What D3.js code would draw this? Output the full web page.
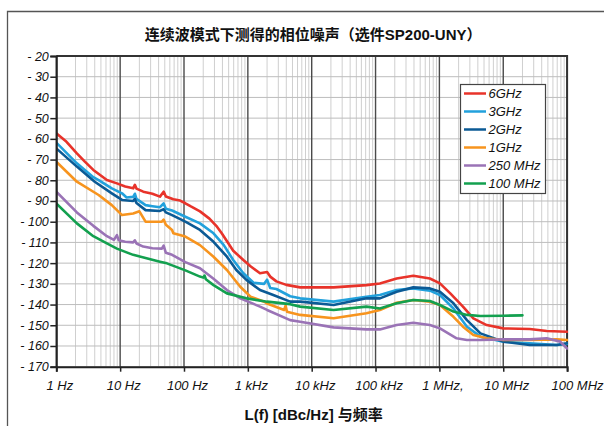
<!DOCTYPE html>
<html><head><meta charset="utf-8">
<script src="https://cdn.jsdelivr.net/npm/d3@7"></script>
<style>
html,body{margin:0;padding:0;background:#fff;}
svg{display:block;}
</style></head>
<body>
<svg id="chart" width="604" height="426"></svg>
<script>
// ---- data ----
const title = "连续波模式下测得的相位噪声（选件SP200-UNY）";
const xTitle = "L(f) [dBc/Hz] 与频率";
const xTicks = [1, 10, 100, 1e3, 1e4, 1e5, 1e6, 1e7, 1e8];
const xTickLabels = ["1 Hz", "10 Hz", "100 Hz", "1 kHz", "10 kHz", "100 kHz", "1 MHz,", "10 MHz", "100 MHz"];
const yTicks = [-20, -30, -40, -50, -60, -70, -80, -90, -100, -110, -120, -130, -140, -150, -160, -170];
const yTickLabels = ["- 20", "- 30", "- 40", "- 50", "- 60", "- 70", "- 80", "- 90", "- 100", "- 110", "- 120", "- 130", "- 140", "- 150", "- 160", "- 170"];
const seriesNames = ["6GHz", "3GHz", "2GHz", "1GHz", "250 MHz", "100 MHz"];
const seriesColors = ["#e8332a", "#22a1dc", "#0b5a95", "#f7941e", "#9a73b6", "#13a04f"];

const s6GHz = [[1,-57.3],[1.4,-61],[2.1,-67],[2.8,-71],[3.8,-75],[6.2,-79.9],[8.9,-81.5],[12,-83],[16,-83.9],[17,-82.2],[18,-84],[23,-85.5],[32,-86.5],[42,-87.9],[48,-85.5],[52,-87.8],[68,-89.2],[87,-89.8],[105,-91.1],[126,-92.5],[178,-95],[250,-98.5],[320,-102],[390,-105.6],[590,-114],[850,-118.5],[1100,-121.5],[1550,-124.9],[2000,-124.3],[2240,-126.5],[2800,-128.8],[4000,-130.5],[6600,-131.7],[22000,-131.7],[72000,-130.6],[117000,-129.8],[214000,-127.4],[390000,-126.1],[710000,-127.4],[1.02e6,-129.8],[1.48e6,-134.6],[2.34e6,-141],[3.4e6,-146.7],[5.5e6,-149.9],[1e7,-151.5],[2.6e7,-151.8],[4.8e7,-152.8],[1e8,-153.1]];
const s3GHz = [[1,-61.8],[2.1,-71.8],[3.8,-78.5],[4.6,-79.9],[7.4,-83.9],[10.7,-86.3],[12.6,-88.3],[16,-88],[17,-86.5],[18,-89],[25,-92],[32,-92.5],[42,-93],[48,-91.2],[52,-93.8],[65,-94.6],[105,-97.6],[178,-100.8],[290,-105.6],[420,-111.3],[590,-118.5],[850,-124.9],[1230,-129.5],[1800,-130],[2000,-128],[2240,-132],[2800,-132.5],[4600,-136],[6600,-137],[22000,-138.6],[72000,-136.2],[117000,-135.4],[214000,-133],[390000,-132.2],[710000,-133.3],[1.02e6,-135.4],[1.66e6,-141.9],[2.7e6,-150.7],[4.4e6,-155.5],[1e7,-157.9],[2.6e7,-158.7],[6.9e7,-159.5],[1e8,-159]];
const s2GHz = [[1,-64.6],[2.1,-73.4],[4,-80.7],[7.4,-86.3],[10.7,-89.5],[16,-90],[17,-89],[18,-91],[25,-94.4],[42,-94.8],[48,-94],[52,-95.5],[65,-96.8],[105,-100],[178,-104],[290,-109.7],[470,-116.9],[660,-123.3],[950,-128.1],[1550,-133],[2500,-135.4],[4600,-138.6],[6600,-138.6],[22000,-140.2],[72000,-137],[117000,-137],[214000,-133.8],[390000,-131.7],[710000,-132.2],[1.02e6,-133.8],[1.66e6,-139.4],[2.7e6,-147.5],[4.4e6,-153.9],[1e7,-157.9],[2.6e7,-159.5],[6.9e7,-159.5],[1e8,-158.7]];
const s1GHz = [[1,-71],[2.1,-80.7],[4.6,-87.1],[7.4,-92],[10.7,-96.8],[16,-96],[20,-95],[25,-100],[45,-100],[48,-99],[52,-101.5],[65,-104],[68,-105.6],[105,-107.2],[178,-111.3],[290,-116.9],[470,-123.3],[760,-131.4],[1100,-136.2],[1800,-138.6],[2000,-139.5],[3700,-142.6],[3900,-140.5],[4100,-143.5],[6600,-145],[22000,-146.6],[72000,-144.2],[117000,-142.6],[214000,-139.1],[390000,-137.8],[710000,-138.6],[1.02e6,-140.2],[1.66e6,-145.9],[2.34e6,-150.7],[3.4e6,-154.7],[5.5e6,-156.3],[1e7,-157.1],[2.6e7,-157.1],[6.9e7,-156.8],[1e8,-157.1]];
const s250MHz = [[1,-85.5],[2.1,-95.5],[3.8,-102],[6.2,-107],[8,-108.8],[8.9,-106.5],[9.5,-109],[12,-109.7],[16,-110],[17,-109],[18,-110.5],[23,-112],[32,-112.8],[45,-113],[48,-111.5],[52,-115],[65,-116],[105,-119.5],[178,-122.5],[290,-127.5],[470,-133],[760,-137],[1550,-141],[2000,-142.6],[4600,-147.5],[6600,-148.3],[22000,-151],[72000,-152],[117000,-152],[214000,-149.9],[390000,-148.8],[710000,-149.9],[1.02e6,-151.5],[1.86e6,-156.3],[2.7e6,-157.1],[4.4e6,-157.1],[1e7,-156.8],[2.6e7,-156.8],[4.8e7,-156.3],[7.8e7,-157.9],[1e8,-161.2]];
const s100MHz = [[1,-91.2],[2.1,-100.8],[3.8,-107],[6.2,-110.5],[8.9,-113],[16,-116],[25,-117.5],[42,-119.3],[54,-120.1],[105,-123.5],[178,-126.5],[200,-127],[210,-126],[220,-127.8],[290,-130.6],[470,-134.6],[950,-137],[2000,-138.6],[4600,-139.8],[6600,-141],[22000,-142.6],[72000,-141],[117000,-141.9],[214000,-139.4],[390000,-137.8],[710000,-138.3],[1.02e6,-140.2],[1.66e6,-143.4],[2.7e6,-145],[4.4e6,-145.5],[1e7,-145.4],[2e7,-145.2]];
const seriesValues = [s6GHz, s3GHz, s2GHz, s1GHz, s250MHz, s100MHz];

// ---- layout ----
const svg = d3.select("#chart");
const L = 56.3, R = 567.1, T = 56, B = 366.7;
const x = d3.scaleLog().domain([1, 1e8]).range([L, R]);
const y = d3.scaleLinear().domain([-170, -20]).range([B, T]);
const latin = "'Liberation Sans', Arial, 'Noto Sans CJK SC', sans-serif";

svg.append("rect").attr("width", 604).attr("height", 426).attr("fill", "#fff");
// outer frame
svg.append("path").attr("d", "M7.5,430 V11.5 H610").attr("fill", "none").attr("stroke", "#555").attr("stroke-width", 1.3);

// title
svg.append("text").attr("x", (L + R) / 2 + 1.5).attr("y", 40).attr("text-anchor", "middle")
  .attr("font-family", latin).attr("font-weight", "bold").attr("font-size", 15).attr("fill", "#111").text(title);

const g = svg.append("g");
// minor vertical grid
const minor = [];
for (let d = 0; d < 8; d++) for (let k = 2; k <= 9; k++) minor.push(k * Math.pow(10, d));
g.selectAll("line.minor").data(minor).enter().append("line")
  .attr("x1", d => x(d)).attr("x2", d => x(d)).attr("y1", T).attr("y2", B)
  .attr("stroke", "#cfcfcf").attr("stroke-width", 1);
// horizontal grid
g.selectAll("line.hgrid").data(yTicks).enter().append("line")
  .attr("x1", L).attr("x2", R).attr("y1", d => y(d)).attr("y2", d => y(d))
  .attr("stroke", "#bdbdbd").attr("stroke-width", 1);
// major vertical grid
g.selectAll("line.major").data(xTicks).enter().append("line")
  .attr("x1", d => x(d)).attr("x2", d => x(d)).attr("y1", T).attr("y2", B)
  .attr("stroke", "#4a4a4a").attr("stroke-width", 1.4);
// top and right border
svg.append("path").attr("d", `M${L},${T} H${R} V${B}`).attr("fill", "none").attr("stroke", "#333").attr("stroke-width", 2);

// series
const clip = svg.append("clipPath").attr("id", "clip").append("rect")
  .attr("x", L).attr("y", T - 2).attr("width", R - L + 1).attr("height", B - T + 2);
const line = d3.line().x(d => x(d[0])).y(d => y(d[1]));
svg.append("g").attr("clip-path", "url(#clip)").selectAll("path").data(seriesValues).enter().append("path")
  .attr("d", line).attr("fill", "none").attr("stroke", (d, i) => seriesColors[i])
  .attr("stroke-width", 2.6).attr("stroke-linejoin", "round").attr("stroke-linecap", "round");

// axes
const yAxis = d3.axisLeft(y).tickValues(yTicks).tickSize(6).tickPadding(1.5)
  .tickFormat((d, i) => yTickLabels[i]);
const ya = svg.append("g").attr("transform", `translate(${L},0)`).call(yAxis);
ya.select(".domain").attr("stroke", "#222").attr("stroke-width", 2);
ya.selectAll(".tick line").attr("stroke", "#222").attr("stroke-width", 1.5);
ya.selectAll(".tick text").attr("font-family", latin).attr("font-style", "italic").attr("font-size", 12.5).attr("fill", "#111");

const xAxis = d3.axisBottom(x).tickValues(xTicks).tickSize(5).tickPadding(7)
  .tickFormat((d, i) => xTickLabels[i]);
const xa = svg.append("g").attr("transform", `translate(0,${B})`).call(xAxis);
xa.select(".domain").attr("stroke", "#222").attr("stroke-width", 2);
xa.selectAll(".tick line").attr("stroke", "#222").attr("stroke-width", 1.5);
xa.selectAll(".tick text").attr("font-family", latin).attr("font-style", "italic").attr("font-size", 13).attr("fill", "#111")
  .attr("dx", 3).attr("dy", "0.9em");
xa.selectAll(".tick text").filter((d, i) => i === xTicks.length - 1).attr("text-anchor", "end").attr("dx", 36);

// x axis title
svg.append("text").attr("x", (L + R) / 2 + 2).attr("y", 420).attr("text-anchor", "middle")
  .attr("font-family", latin).attr("font-weight", "bold").attr("font-size", 15).attr("fill", "#111").text(xTitle);

// legend
const lg = svg.append("g");
lg.append("rect").attr("x", 460.5).attr("y", 84.5).attr("width", 85).attr("height", 109)
  .attr("fill", "#fff").attr("stroke", "#444").attr("stroke-width", 1.2);
const items = lg.selectAll("g.item").data(seriesNames).enter().append("g")
  .attr("transform", (d, i) => `translate(0,${93.5 + i * 18})`);
items.append("line").attr("x1", 464).attr("x2", 486).attr("y1", 0).attr("y2", 0)
  .attr("stroke", (d, i) => seriesColors[i]).attr("stroke-width", 2.5);
items.append("text").attr("x", 488.5).attr("y", 4.6).attr("font-family", latin).attr("font-style", "italic")
  .attr("font-size", 13).attr("fill", "#111").text(d => d);
</script>
</body></html>
